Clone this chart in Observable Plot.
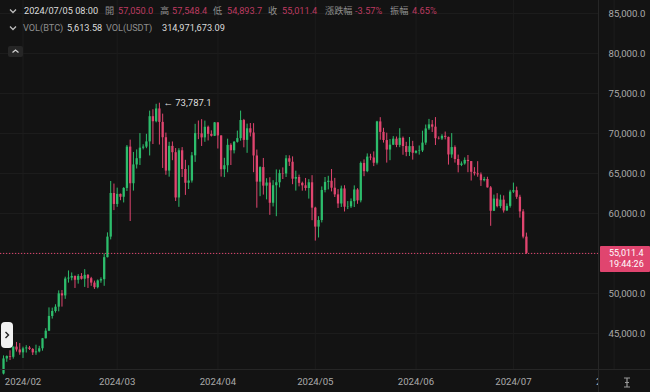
<!DOCTYPE html>
<html><head><meta charset="utf-8">
<script src="https://cdn.jsdelivr.net/npm/d3@7"></script>
<script src="https://cdn.jsdelivr.net/npm/@observablehq/plot@0.6"></script>
<style>
html,body{margin:0;padding:0;background:#131313;}
#wrap{position:relative;width:650px;height:392px;overflow:hidden;background:#131313;font-family:Roboto,"Noto Sans CJK TC",sans-serif;}
#wrap svg{display:block;}
.t{position:absolute;white-space:nowrap;font-size:9.2px;line-height:10px;font-family:Roboto,"Noto Sans CJK TC",sans-serif;}
.lab{color:#8e8e8e;}
.val{color:#bd3a60;}
.wh{color:#dcdcdc;}
</style></head><body><div id="wrap"></div>
<script>
// ---------- data ----------
const startDate = "2024-01-26"; // first daily candle, one candle per day
const open = [
 39930,41820,42120,42030,43300,42940,
 42580,43080,43190,43000,42580,42700,43090,44340,45290,47130,47750,48290,49960,49700,51810,51920,52130,51650,52130,51780,52270,51850,51300,50730,51570,51730,54480,57050,62500,
 61130,62390,62030,63130,68300,63720,66070,66850,68170,68300,68950,72100,71470,73070,71390,69470,65300,68390,67600,61940,67840,65500,63780,64060,67210,69990,69960,69450,70780,69890,69650,
 71330,69700,65470,65970,68520,67840,68900,69360,71620,69140,70590,70060,67190,63920,65740,63420,63810,61280,63470,63840,64990,64940,66840,66410,64290,64500,63770,63460,63120,63840,
 60670,58300,59120,62880,63890,64030,63160,62330,61190,63070,60790,60830,61480,62940,61580,66260,65230,67050,66940,66280,71450,70140,69120,67930,68540,69290,68510,69400,68370,67630,68360,
 67530,67760,67820,68800,70570,71080,70790,69350,69310,69650,69510,67320,68240,66750,66010,66190,66640,66490,65150,64960,64830,64100,64250,63200,60280,61800,60860,61670,60320,60890,
 62680,62850,62030,60200,57050
];
const high = [
 42200,42200,42840,43310,43880,43740,
 43290,43480,43380,43120,43540,43400,44380,45600,48200,48170,48590,50330,50370,52040,52820,52570,52200,52360,52490,52980,52370,52020,51550,51690,51960,54940,57580,64000,63680,
 63170,62430,63230,68500,69170,67630,67950,69990,68590,69900,72800,72970,73650,73787.1,72420,70050,68900,68940,68120,68100,68240,66650,65970,67620,71150,71560,71730,71550,70930,70330,71370,
 71340,69710,66900,69290,68720,69000,70300,72800,71760,71170,71250,71230,67930,65840,66880,64350,64470,64100,65450,65420,65700,67230,67210,67080,65290,64800,63920,64380,64230,64730,
 60780,59600,63320,64500,64650,65500,64390,62990,63420,63470,61490,61820,63450,63100,66440,66700,67450,67400,67700,71520,71980,70650,70040,69250,69610,69560,70600,69560,68900,69500,69020,
 67860,68440,70290,71060,71760,71620,71990,69580,69850,70180,69550,69990,68450,67300,66450,66950,67250,66490,65730,66480,65070,64520,64530,63370,62300,62480,62290,62200,61200,62900,
 63800,63300,62280,60480,57548.4
];
const low = [
 39820,41400,41620,41800,42680,42280,
 41880,42560,42880,42250,42270,42580,42790,44330,45240,46800,47550,47710,48300,49270,51300,51580,50630,51170,51680,50760,50630,50900,50510,50580,51280,50900,54450,56700,60360,
 60770,61600,61320,62750,59000,62800,65560,66000,67950,68100,67190,68620,71330,68560,65630,64780,64540,66600,61500,60770,64500,62260,63000,63800,66390,69230,68380,68900,69070,69560,69620,
 68060,64550,64490,65090,66000,67450,68800,69040,68210,67520,69570,65100,60660,62100,62300,61700,59770,60820,59600,63200,64250,64500,65880,63600,62800,63330,62790,62800,61800,59100,
 56550,56940,58820,62580,62950,62700,62000,60630,60750,60190,60490,60630,60750,61150,61330,64600,65100,66600,65860,66060,69160,68800,66300,66600,68490,68230,68230,67280,67100,67130,66670,
 67440,67300,67620,68520,70380,70120,68500,69200,69130,69200,66050,66900,66300,65080,65860,66040,65100,64060,64690,64530,63380,63950,63180,58400,60250,60700,60600,60050,60260,60670,
 62500,61770,59420,56830,54893.7
];
const close = [
 41820,42120,42030,43300,42940,42580,
 43080,43190,43000,42580,42700,43090,44340,45290,47130,47750,48290,49960,49700,51810,51920,52130,51650,52130,51780,52270,51850,51300,50730,51570,51730,54480,57050,62500,61130,
 62390,62030,63130,68300,63720,66070,66850,68170,68300,68950,72100,71470,73070,71390,69470,65300,68390,67600,61940,67840,65500,63780,64060,67210,69990,69960,69450,70780,69890,69650,71330,
 69700,65470,65970,68520,67840,68900,69360,71620,69140,70590,70060,67190,63920,65740,63420,63810,61280,63470,63840,64990,64940,66840,66410,64290,64500,63770,63460,63120,63840,60670,
 58300,59120,62880,63890,64030,63160,62330,61190,63070,60790,60830,61480,62940,61580,66260,65230,67050,66940,66280,71450,70140,69120,67930,68540,69290,68510,69400,68370,67630,68360,67530,
 67760,67820,68800,70570,71080,70790,69350,69310,69650,69510,67320,68240,66750,66010,66190,66640,66490,65150,64960,64830,64100,64250,63200,60280,61800,60860,61670,60320,60890,62680,
 62850,62030,60200,57050,55011.4
];
const yTicks = [45000,50000,55000,60000,65000,70000,75000,80000,85000];
const monthTicks = ["2024-02-01","2024-03-01","2024-04-01","2024-05-01","2024-06-01","2024-07-01","2024-08-01"];
const monthLabels = ["2024/02","2024/03","2024/04","2024/05","2024/06","2024/07","2024/08"];
const headerLabels = ["開","高","低","收","漲跌幅","振幅"];
const headerValues = ["57,050.0","57,548.4","54,893.7","55,011.4","-3.57%","4.65%"];
const headerTime = "2024/07/05 08:00";
const volLabels = ["VOL(BTC)","VOL(USDT)"];
const volValues = ["5,613.58","314,971,673.09"];
const maxLabel = "73,787.1";
const countdown = "19:44:26";

// ---------- build ----------
const GREEN = "#2dbd6c", RED = "#e0456f";
const t0 = new Date(startDate + "T00:00:00Z");
const data = close.map((c, i) => ({
  date: d3.utcDay.offset(t0, i), open: open[i], high: high[i], low: low[i], close: c,
  col: c >= open[i] ? GREEN : RED
}));
const last = data[data.length - 1];
const maxD = data.reduce((a, b) => b.high > a.high ? b : a);
const ticks = monthTicks.map(s => new Date(s + "T00:00:00Z"));
const labelOf = new Map(ticks.map((d, i) => [+d, monthLabels[i]]));
const feb1 = ticks[0];
const DAY = 864e5;
const xDomain = [new Date(+feb1 - 6.93 * DAY), new Date(+feb1 + 177.2 * DAY)];
// tick labels hidden behind the live price tag are not drawn
const labelTicks = yTicks.filter(v => Math.abs(v - last.close) > 2500);

const chart = Plot.plot({
  width: 650, height: 392,
  marginLeft: 0, marginRight: 52, marginTop: 0, marginBottom: 23,
  style: {background: "#131313", fontFamily: "Roboto, sans-serif"},
  x: {type: "utc", domain: xDomain},
  y: {domain: [40500, 86625]},
  color: {type: "identity"},
  marks: [
    Plot.gridY(yTicks, {stroke: "#1c1c1c", strokeOpacity: 1}),
    Plot.gridX(ticks, {stroke: "#1c1c1c", strokeOpacity: 1}),
    Plot.ruleX(data, {x: "date", y1: "low", y2: "high", stroke: "col", strokeWidth: 1}),
    Plot.ruleX(data, {x: "date", y1: "open", y2: "close", stroke: "col", strokeWidth: 2.3}),
    Plot.ruleY([last.close], {stroke: RED, strokeWidth: 1, strokeDasharray: "1.2 1.8"}),
    Plot.text([maxD], {x: "date", y: "high", text: () => "← " + maxLabel, textAnchor: "start", dx: 4, fill: "#dedede", fontSize: 9.5}),
    Plot.axisY(labelTicks, {anchor: "right", tickSize: 0, tickPadding: 10, textAnchor: "start",
      tickFormat: d => d3.format(",.1f")(d), fill: "#ababab", fontSize: 9.6}),
    Plot.axisX(ticks, {anchor: "bottom", tickSize: 0, tickPadding: 9, tickFormat: d => labelOf.get(+d),
      fill: "#ababab", fontSize: 9.6})
  ]
});
const wrap = document.getElementById("wrap");
wrap.appendChild(chart);

const ys = chart.scale("y");
const yLast = ys.apply(last.close);
const yBottom = ys.apply(40500);

function div(style, html) {
  const e = document.createElement("div");
  e.style.cssText = "position:absolute;" + style;
  if (html !== undefined) e.innerHTML = html;
  wrap.appendChild(e);
  return e;
}
// panel separators (right axis panel clips the last month label)
div(`left:598px;top:${yBottom + 1}px;width:52px;height:${392 - yBottom}px;background:#131313;`);
div(`left:598px;top:0;width:1px;height:392px;background:#262626;`);
div(`left:0;top:${yBottom}px;width:650px;height:1px;background:#262626;`);

// price tag
div(`left:600px;top:${yLast - 7}px;width:50px;height:26px;background:${RED};border-radius:1px;color:#fff;font-size:9px;line-height:11px;padding-top:2px;box-sizing:border-box;text-align:left;padding-left:9px;`,
  `<div style="height:11px">${d3.format(",.1f")(last.close)}</div><div style="height:11px">${countdown}</div>`);

// bottom-right icon
div(`left:622px;top:377px;width:10px;height:11px;`,
  `<svg width="10" height="11"><path d="M2 1H8M5 1V10M2 10H8M3 5.5H7" stroke="#9a9a9a" stroke-width="1.2" fill="none"/></svg>`);

// header
const chev = `<svg width="8" height="6"><path d="M1 1.5L4 4.5L7 1.5" stroke="#bdbdbd" stroke-width="1.3" fill="none"/></svg>`;
div(`left:9px;top:8px;`, chev);
div(`left:9px;top:25px;`, chev);
function txt(x, y, cls, s) { const e = div(`left:${x}px;top:${y}px;`, s); e.className = "t " + cls; e.style.left = x + "px"; e.style.top = y + "px"; }
txt(24, 6, "wh", headerTime);
const lx = [105, 160, 213, 268, 325, 390];
const vx = [118, 172, 227, 282, 355, 412];
headerLabels.forEach((s, i) => txt(lx[i], 6, "lab", s));
headerValues.forEach((s, i) => txt(vx[i], 6, "val", s));
txt(23, 23, "lab", volLabels[0]);
txt(67, 23, "wh", volValues[0]);
txt(106, 23, "lab", volLabels[1]);
txt(162, 23, "wh", volValues[1]);

// small buttons
div(`left:8px;top:46px;width:15px;height:11px;background:#262626;border-radius:2px;`,
  `<svg width="15" height="11"><path d="M4.5 6.5L7.5 4L10.5 6.5" stroke="#d0d0d0" stroke-width="1.3" fill="none"/></svg>`);
div(`left:1px;top:322px;width:12px;height:26px;background:#f2f2f2;border-radius:4px;`,
  `<svg width="12" height="26"><path d="M4.5 10L7.5 13L4.5 16" stroke="#222" stroke-width="1.4" fill="none"/></svg>`);
</script></body></html>
